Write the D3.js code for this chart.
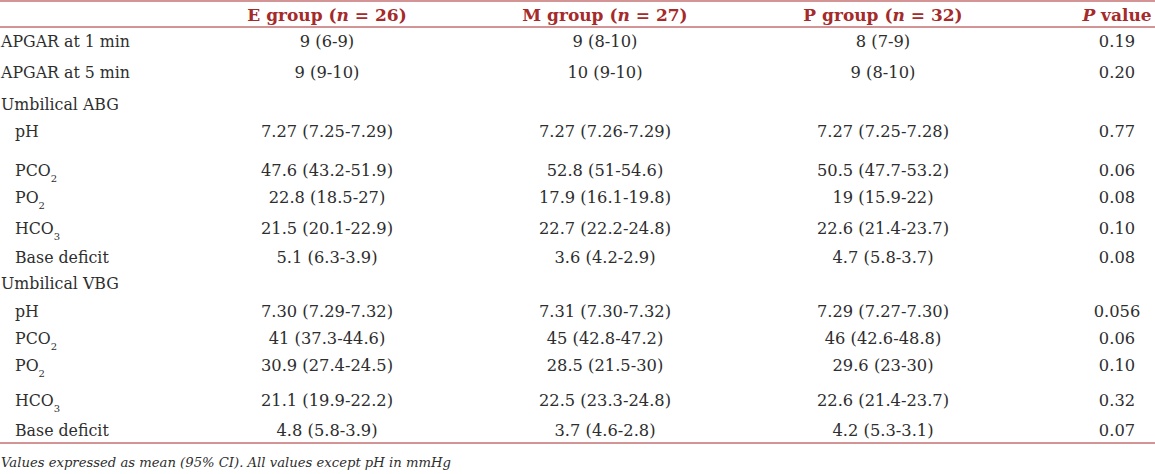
<!DOCTYPE html>
<html>
<head>
<meta charset="utf-8">
<script src="https://cdn.jsdelivr.net/npm/d3@7"></script>
<style>
  body { margin: 0; background: #fff; }
  svg text { font-family: "DejaVu Serif", serif; }
</style>
</head>
<body>
<script>
// table data
let groups = ['E group', 'M group', 'P group'];
let groupN = [26, 27, 32];
let rowLabels = ['APGAR at 1 min', 'APGAR at 5 min', 'Umbilical ABG', 'pH', 'PCO|2', 'PO|2', 'HCO|3', 'Base deficit',
  'Umbilical VBG', 'pH', 'PCO|2', 'PO|2', 'HCO|3', 'Base deficit'];
let indented = [false, false, false, true, true, true, true, true, false, true, true, true, true, true];
let eValues = ['9 (6-9)', '9 (9-10)', '', '7.27 (7.25-7.29)', '47.6 (43.2-51.9)', '22.8 (18.5-27)', '21.5 (20.1-22.9)', '5.1 (6.3-3.9)',
  '', '7.30 (7.29-7.32)', '41 (37.3-44.6)', '30.9 (27.4-24.5)', '21.1 (19.9-22.2)', '4.8 (5.8-3.9)'];
let mValues = ['9 (8-10)', '10 (9-10)', '', '7.27 (7.26-7.29)', '52.8 (51-54.6)', '17.9 (16.1-19.8)', '22.7 (22.2-24.8)', '3.6 (4.2-2.9)',
  '', '7.31 (7.30-7.32)', '45 (42.8-47.2)', '28.5 (21.5-30)', '22.5 (23.3-24.8)', '3.7 (4.6-2.8)'];
let pValues = ['8 (7-9)', '9 (8-10)', '', '7.27 (7.25-7.28)', '50.5 (47.7-53.2)', '19 (15.9-22)', '22.6 (21.4-23.7)', '4.7 (5.8-3.7)',
  '', '7.29 (7.27-7.30)', '46 (42.6-48.8)', '29.6 (23-30)', '22.6 (21.4-23.7)', '4.2 (5.3-3.1)'];
let pCol = ['0.19', '0.20', '', '0.77', '0.06', '0.08', '0.10', '0.08', '', '0.056', '0.06', '0.10', '0.32', '0.07'];
let footnote = 'Values expressed as mean (95% CI). All values except pH in mmHg';

// layout (row gaps are uneven in the source, so keep row steps here)
let width = 1155, height = 474;
let rowSteps = [0, 31, 32, 27, 39, 27, 31, 29, 26, 28, 27, 27, 35, 30];
let firstRow = 41;
let rowY = d3.cumsum(rowSteps).map(function (d) { return firstRow + d; });
let red = '#a52a2a', ink = '#2e2e2e';

let colCenters = [327, 605, 883, 1117];
let y = d3.scaleOrdinal().domain(d3.range(rowLabels.length)).range(rowY);

let svg = d3.select('body').append('svg').attr('width', width).attr('height', height);

// rules
[1, 27, 443].forEach(function (ly) {
  svg.append('line').attr('x1', 0).attr('x2', width).attr('y1', ly).attr('y2', ly)
    .attr('stroke', red).attr('stroke-width', 1.2);
});

// header
let header = svg.append('g').attr('fill', red).attr('font-weight', 'bold').attr('font-size', 17);
groups.forEach(function (g, i) {
  let t = header.append('text').attr('x', colCenters[i]).attr('y', 21).attr('text-anchor', 'middle');
  t.append('tspan').text(g + ' (');
  t.append('tspan').attr('font-style', 'italic').text('n');
  t.append('tspan').text(' = ' + groupN[i] + ')');
});
let ph = header.append('text').attr('x', colCenters[3]).attr('y', 21).attr('text-anchor', 'middle');
ph.append('tspan').attr('font-style', 'italic').text('P');
ph.append('tspan').text(' value');

// body rows
let body = svg.append('g').attr('fill', ink).attr('font-size', 16.3);
let rows = body.selectAll('g.row').data(rowLabels).join('g').attr('class', 'row')
  .attr('transform', function (d, i) { return 'translate(0,' + (y(i) + 6) + ')'; });

rows.append('text')
  .attr('x', function (d, i) { return indented[i] ? 15 : 1; })
  .attr('font-size', 15.8)
  .each(function (d) {
    let parts = d.split('|');
    let t = d3.select(this);
    t.append('tspan').text(parts[0]);
    if (parts[1]) {
      t.append('tspan').attr('font-size', 10).attr('dy', 6).text(parts[1]);
    }
  });

[eValues, mValues, pValues, pCol].forEach(function (col, c) {
  rows.append('text')
    .attr('x', colCenters[c])
    .attr('text-anchor', 'middle')
    .text(function (d, i) { return col[i]; });
});

// footnote
svg.append('text').attr('x', 1).attr('y', 467).attr('fill', ink)
  .attr('font-size', 13.2).attr('font-style', 'italic').text(footnote);
</script>
</body>
</html>
